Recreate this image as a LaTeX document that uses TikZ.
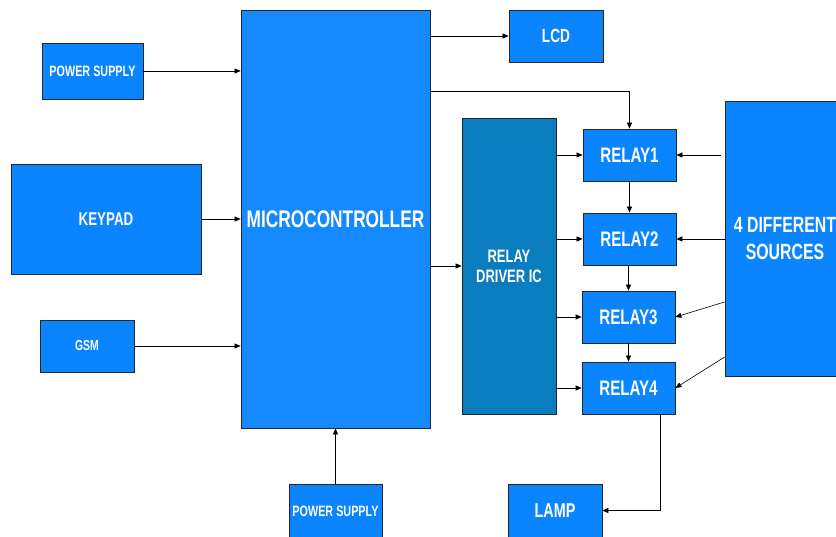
\documentclass[tikz,border=0pt]{standalone}
\usepackage{fontspec}
\newfontfamily\narrowfont[FakeStretch=0.72]{Liberation Sans}
\usetikzlibrary{arrows.meta,positioning}
\definecolor{blockblue}{HTML}{0A84FF}
\definecolor{microblue}{HTML}{1589FF}
\definecolor{driverblue}{HTML}{0A7DBF}
\begin{document}
\begin{tikzpicture}[x=1pt, y=-1pt, block/.style={draw=black!85, line width=0.8pt, fill=blockblue, text=white, align=center, inner sep=0pt, font=\narrowfont\bfseries}, fs/.style={font=\narrowfont\bfseries\fontsize{#1}{#1}\selectfont}, link/.style={-{Triangle[length=6pt,width=5pt]}, line width=0.6pt}]
\useasboundingbox (0,0) rectangle (836,537);
\node[block, fs=15, minimum width=101pt, minimum height=56pt] (ps1) at (92.5,71) {POWER SUPPLY};
\node[block, fs=18.5, minimum width=190pt, minimum height=110pt] (keypad) at (106,219) {KEYPAD};
\node[block, fs=14.5, minimum width=94pt, minimum height=52pt] (gsm) at (87,346) {GSM};
\node[block, fs=24, fill=microblue, minimum width=189pt, minimum height=418pt] (micro) at (335.5,219) {MICROCONTROLLER};
\node[block, fs=15, minimum width=93pt, minimum height=54pt] (ps2) at (335.5,511) {POWER SUPPLY};
\node[block, fs=19, minimum width=94pt, minimum height=52pt] (lcd) at (556,36) {LCD};
\node[block, fs=18, fill=driverblue, minimum width=94pt, minimum height=296pt] (driver) at (509,266) {RELAY\\[2pt]DRIVER IC};
\node[block, fs=21, minimum width=93pt, minimum height=52pt] (r1) at (629.5,155) {RELAY1};
\node[block, fs=21, minimum width=93pt, minimum height=52pt] (r2) at (629.5,239) {RELAY2};
\node[block, fs=21, minimum width=93pt, minimum height=52pt] (r3) at (628.5,317) {RELAY3};
\node[block, fs=21, minimum width=93pt, minimum height=52pt] (r4) at (628.5,388) {RELAY4};
\node[block, fs=22, minimum width=120pt, minimum height=275pt] (src) at (785,238.5) {4 DIFFERENT\\[5pt]SOURCES};
\node[block, fs=20, minimum width=94pt, minimum height=53pt] (lamp) at (555,510.5) {LAMP};
% inputs to the microcontroller
\draw[link] (ps1.east) -- (ps1.east -| micro.west);
\draw[link] (keypad.east) -- (keypad.east -| micro.west);
\draw[link] (gsm.east) -- (gsm.east -| micro.west);
\draw[link] (ps2.north) -- (micro.south -| ps2.north);
% outputs
\draw[link] (lcd.west -| micro.east) -- (lcd.west);
\draw[link] ([yshift=-82pt]micro.north east) -| (r1.north);
\draw[link] (driver.west -| micro.east) -- (driver.west);
\foreach \r in {r1,r2,r3,r4} \draw[link] (\r.west -| driver.east) -- (\r.west);
\draw[link] (r1.south) -- (r2.north); \draw[link] (r3.north |- r2.south) -- (r3.north); \draw[link] (r3.south) -- (r4.north);
% sources to relays
\draw[link] ([xshift=-4pt]r1.east -| src.west) -- (r1.east);
\draw[link] (r2.east -| src.west) -- (r2.east);
\draw[link] ([yshift=-63.5pt]src.west) -- (r3.east);
\draw[link] ([yshift=-118.5pt]src.west) -- (r4.east);
\draw[link] ([xshift=31.5pt]r4.south) |- (lamp.east);
\end{tikzpicture}
\end{document}
